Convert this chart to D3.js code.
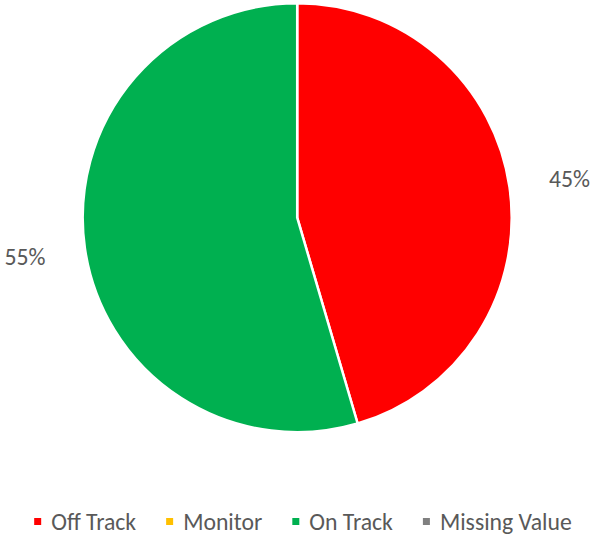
<!DOCTYPE html>
<html><head><meta charset="utf-8">
<script src="https://cdn.jsdelivr.net/npm/d3@7"></script>
<style>html,body{margin:0;padding:0;background:#fff;}</style>
</head><body>
<svg id="chart" width="592" height="535"></svg>
<script>
const categories = ["Off Track", "Monitor", "On Track", "Missing Value"];
const counts = [5, 0, 6, 0];
const colors = ["#FF0000", "#FFC000", "#00B050", "#808080"];

const W = 592, H = 535;
const cx = 297.2, cy = 217.7, R = 214.5, labelR = 275;
const fontFamily = "Calibri, Carlito, Lato, 'Open Sans', sans-serif";
const textColor = "#595959";

const svg = d3.select("#chart");

// fit font so widths resemble the original (Calibri 24px)
const probe = svg.append("text").attr("font-family", fontFamily).attr("font-size", 24).text("Missing Value");
const measured = probe.node().getComputedTextLength();
probe.remove();
const fs = 24 * 132 / measured;

const total = d3.sum(counts);
const pie = d3.pie().sort(null).value(d => d.v)(categories.map((c, i) => ({c, v: counts[i], color: colors[i]})));
const arc = d3.arc().innerRadius(0).outerRadius(R);
const labelArc = d3.arc().innerRadius(labelR).outerRadius(labelR);

const g = svg.append("g").attr("transform", `translate(${cx},${cy})`);
g.selectAll("path").data(pie.filter(d => d.data.v > 0)).join("path")
  .attr("d", arc).attr("fill", d => d.data.color)
  .attr("stroke", "#fff").attr("stroke-width", 2.5).attr("stroke-linejoin", "round");

g.selectAll("text.lbl").data(pie.filter(d => d.data.v > 0)).join("text")
  .attr("class", "lbl")
  .attr("transform", d => `translate(${labelArc.centroid(d)})`)
  .attr("text-anchor", "middle").attr("dominant-baseline", "central")
  .attr("font-family", fontFamily).attr("font-size", fs).attr("fill", textColor)
  .text(d => Math.round(d.data.v / total * 100) + "%");

// legend
const sq = 7, gapText = 10, gapItem = 30, legY = 521.5;
const leg = svg.append("g");
const items = leg.selectAll("g").data(categories).join("g");
items.append("text")
  .attr("font-family", fontFamily).attr("font-size", fs).attr("fill", textColor)
  .attr("dominant-baseline", "central").attr("y", legY)
  .text(d => d);
const widths = items.select("text").nodes().map(n => n.getComputedTextLength());
const totalW = d3.sum(widths) + categories.length * (sq + gapText) + (categories.length - 1) * gapItem;
let x = 303 - totalW / 2;
items.each(function(d, i) {
  const it = d3.select(this);
  it.insert("rect", "text").attr("x", x).attr("y", legY - sq / 2).attr("width", sq).attr("height", sq).attr("fill", colors[i]);
  it.select("text").attr("x", x + sq + gapText);
  x += sq + gapText + widths[i] + gapItem;
});
</script>
</body></html>
